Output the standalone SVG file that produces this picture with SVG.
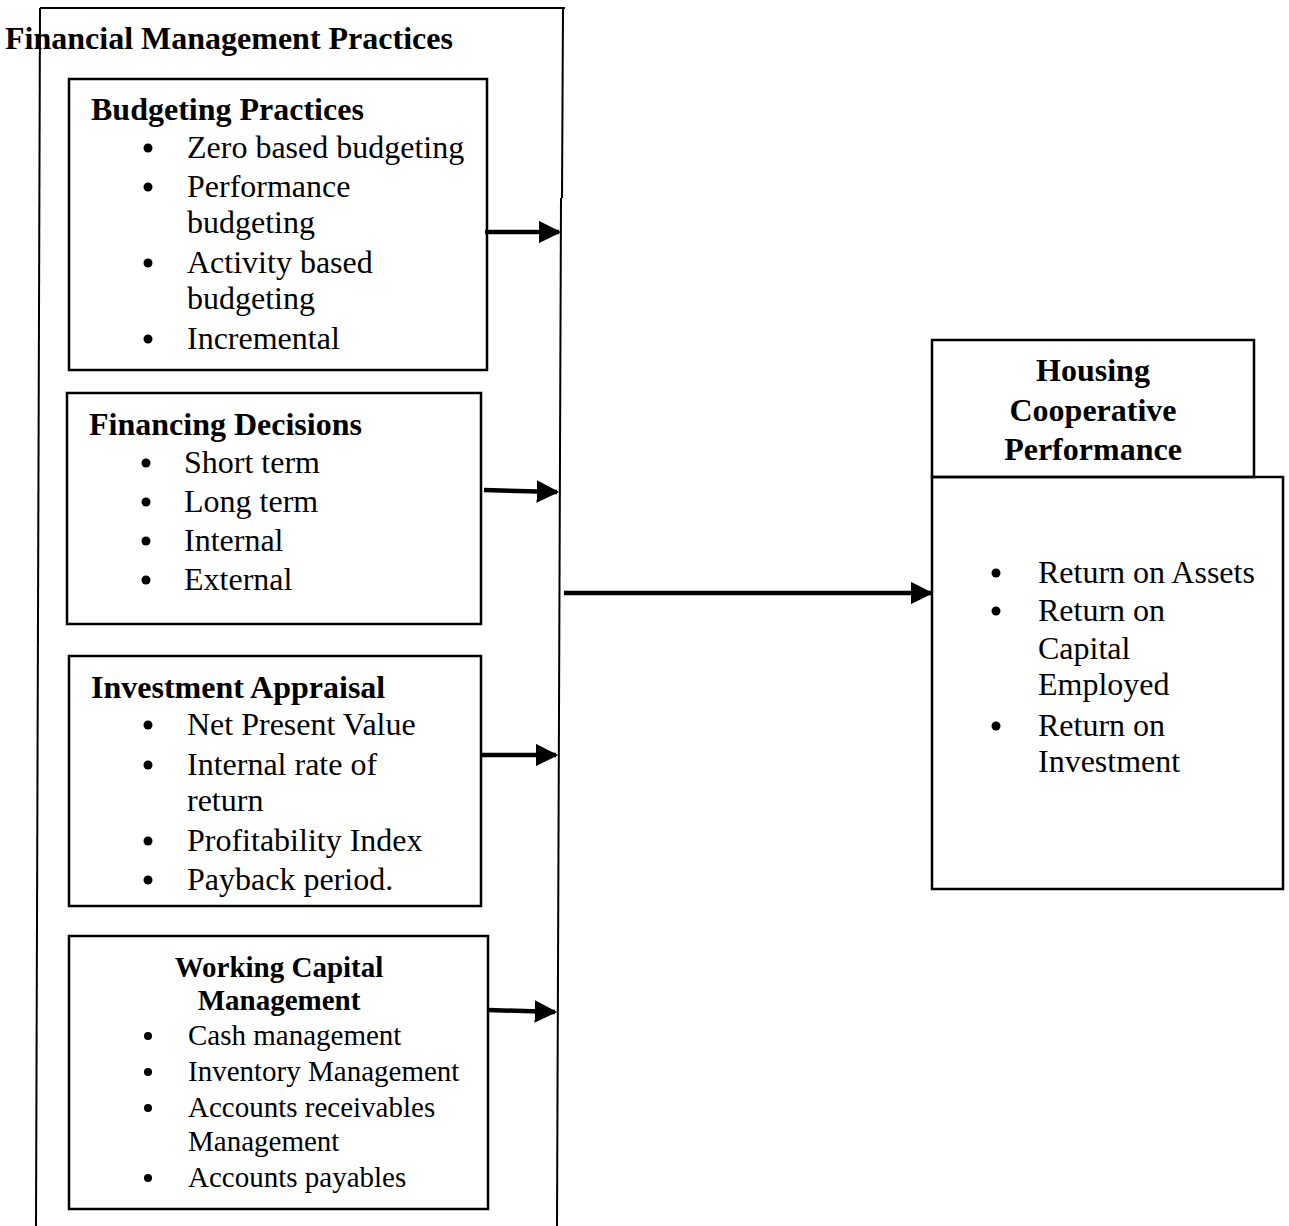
<svg xmlns="http://www.w3.org/2000/svg" width="1289" height="1226" viewBox="0 0 1289 1226">
<style>
.t{font-family:"Liberation Serif","Times New Roman",serif;font-size:32px;fill:#000}
.b{font-weight:bold}
.s{font-size:29px}
.box{fill:none;stroke:#000;stroke-width:2.5}
.ln{fill:none;stroke:#000;stroke-width:2}
.ar{fill:none;stroke:#000;stroke-width:4.5;marker-end:url(#ah)}
.dot{fill:#000}
</style>
<defs>
<marker id="ah" markerWidth="5" markerHeight="5" refX="4.5" refY="2.5" orient="auto" markerUnits="strokeWidth" viewBox="0 0 5 5">
<path d="M0,0 L5,2.5 L0,5 Z" fill="#000"/>
</marker>
</defs>
<rect width="1289" height="1226" fill="#fff"/>

<g id="outer">
<line class="ln" x1="40" y1="8" x2="565" y2="8"/>
<line class="ln" x1="40" y1="8" x2="36" y2="1226"/>
<line class="ln" x1="563" y1="8" x2="562" y2="198"/>
<line class="ln" x1="561" y1="198" x2="557" y2="1226"/>
<text class="t b" x="5" y="49">Financial Management Practices</text>
</g>

<g id="budgeting">
<rect class="box" x="69" y="79" width="418" height="291"/>
<text class="t b" x="91" y="120">Budgeting Practices</text>
<circle class="dot" cx="148" cy="148" r="4.5"/>
<text class="t" x="187" y="158">Zero based budgeting</text>
<circle class="dot" cx="148" cy="187" r="4.5"/>
<text class="t" x="187" y="197">Performance</text>
<text class="t" x="187" y="233">budgeting</text>
<circle class="dot" cx="148" cy="263" r="4.5"/>
<text class="t" x="187" y="273">Activity based</text>
<text class="t" x="187" y="309">budgeting</text>
<circle class="dot" cx="148" cy="339" r="4.5"/>
<text class="t" x="187" y="349">Incremental</text>
</g>

<g id="financing">
<rect class="box" x="67" y="393" width="414" height="231"/>
<text class="t b" x="89" y="435">Financing Decisions</text>
<circle class="dot" cx="146" cy="463" r="4.5"/>
<text class="t" x="184" y="473">Short term</text>
<circle class="dot" cx="146" cy="502" r="4.5"/>
<text class="t" x="184" y="512">Long term</text>
<circle class="dot" cx="146" cy="541" r="4.5"/>
<text class="t" x="184" y="551">Internal</text>
<circle class="dot" cx="146" cy="580" r="4.5"/>
<text class="t" x="184" y="590">External</text>
</g>

<g id="investment">
<rect class="box" x="69" y="656" width="412" height="250"/>
<text class="t b" x="91" y="698">Investment Appraisal</text>
<circle class="dot" cx="148" cy="725" r="4.5"/>
<text class="t" x="187" y="735">Net Present Value</text>
<circle class="dot" cx="148" cy="765" r="4.5"/>
<text class="t" x="187" y="775">Internal rate of</text>
<text class="t" x="187" y="811">return</text>
<circle class="dot" cx="148" cy="841" r="4.5"/>
<text class="t" x="187" y="851">Profitability Index</text>
<circle class="dot" cx="148" cy="880" r="4.5"/>
<text class="t" x="187" y="890">Payback period.</text>
</g>

<g id="working-capital">
<rect class="box" x="69" y="936" width="419" height="273"/>
<text class="t b s" x="279" y="977" text-anchor="middle">Working Capital</text>
<text class="t b s" x="279" y="1010" text-anchor="middle">Management</text>
<circle class="dot" cx="148" cy="1036" r="4"/>
<text class="t s" x="188" y="1045">Cash management</text>
<circle class="dot" cx="148" cy="1072" r="4"/>
<text class="t s" x="188" y="1081">Inventory Management</text>
<circle class="dot" cx="148" cy="1108" r="4"/>
<text class="t s" x="188" y="1117">Accounts receivables</text>
<text class="t s" x="188" y="1151">Management</text>
<circle class="dot" cx="148" cy="1178" r="4"/>
<text class="t s" x="188" y="1187">Accounts payables</text>
</g>

<g id="performance">
<rect class="box" x="932" y="340" width="322" height="137"/>
<rect class="box" x="932" y="477" width="351" height="412"/>
<text class="t b" x="1093" y="381" text-anchor="middle">Housing</text>
<text class="t b" x="1093" y="421" text-anchor="middle">Cooperative</text>
<text class="t b" x="1093" y="460" text-anchor="middle">Performance</text>
<circle class="dot" cx="996" cy="573" r="4.5"/>
<text class="t" x="1038" y="583">Return on Assets</text>
<circle class="dot" cx="996" cy="611" r="4.5"/>
<text class="t" x="1038" y="621">Return on</text>
<text class="t" x="1038" y="659">Capital</text>
<text class="t" x="1038" y="695">Employed</text>
<circle class="dot" cx="996" cy="726" r="4.5"/>
<text class="t" x="1038" y="736">Return on</text>
<text class="t" x="1038" y="772">Investment</text>
</g>

<g id="connectors">
<line class="ar" x1="485" y1="232" x2="559" y2="232"/>
<line class="ar" x1="484" y1="490" x2="557" y2="492"/>
<line class="ar" x1="481" y1="755" x2="556" y2="755"/>
<line class="ar" x1="488" y1="1010" x2="555" y2="1012"/>
<line class="ar" x1="564" y1="593" x2="931" y2="593"/>
</g>
</svg>
